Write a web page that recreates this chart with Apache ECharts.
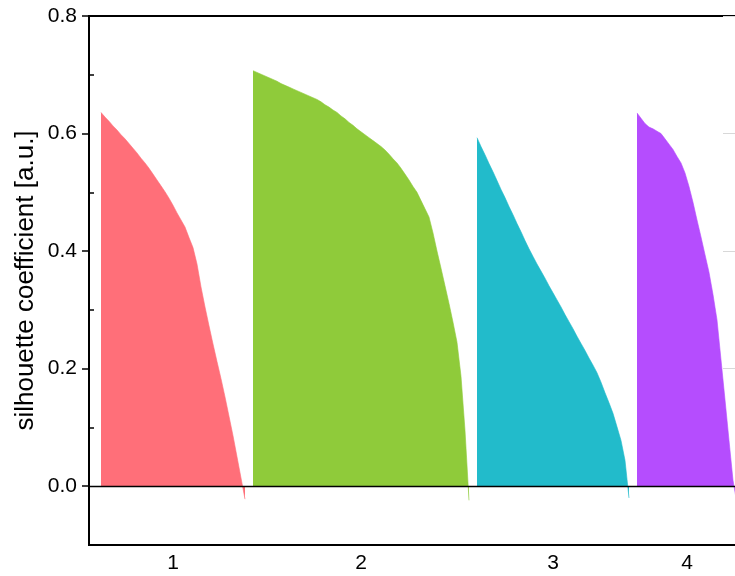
<!DOCTYPE html>
<html>
<head>
<meta charset="utf-8">
<script src="https://cdn.jsdelivr.net/npm/echarts@6/dist/echarts.min.js"></script>
<style>html,body{margin:0;padding:0;background:#fff;}#c{width:735px;height:576px;}</style>
</head>
<body>
<div id="c"></div>
<script>
// Silhouette values per cluster, sorted descending (one entry per sample)
const cluster1 = [0.636,0.628,0.621,0.613,0.606,0.598,0.591,0.583,0.575,0.567,0.558,0.550,0.541,0.531,0.521,0.511,0.501,0.490,0.478,0.465,0.453,0.441,0.423,0.406,0.378,0.339,0.305,0.273,0.242,0.212,0.183,0.152,0.119,0.086,0.050,0.014,-0.022];
const cluster2 = [0.707,0.704,0.701,0.698,0.695,0.692,0.689,0.685,0.682,0.679,0.676,0.673,0.670,0.667,0.664,0.661,0.658,0.654,0.649,0.645,0.640,0.636,0.630,0.625,0.619,0.614,0.608,0.603,0.598,0.593,0.588,0.583,0.578,0.572,0.565,0.557,0.550,0.541,0.531,0.521,0.510,0.500,0.486,0.472,0.458,0.431,0.400,0.371,0.341,0.311,0.279,0.245,0.187,0.095,-0.024];
const cluster3 = [0.593,0.578,0.564,0.549,0.535,0.520,0.505,0.491,0.476,0.462,0.447,0.433,0.418,0.404,0.391,0.378,0.366,0.354,0.341,0.329,0.317,0.305,0.292,0.280,0.268,0.255,0.243,0.231,0.218,0.206,0.193,0.177,0.159,0.142,0.124,0.101,0.078,0.044,-0.020];
const cluster4 = [0.635,0.626,0.617,0.611,0.608,0.604,0.600,0.591,0.582,0.573,0.561,0.550,0.533,0.510,0.483,0.453,0.424,0.394,0.364,0.326,0.283,0.215,0.147,0.078,0.010,-0.030];
const clusterLabels = ['1','2','3','4'];
const clusterColors = ['#FF6F79','#8FCB3A','#22BBCB','#B54DFE'];
const yTickLabels = ['0.0','0.2','0.4','0.6','0.8'];
const yTitle = 'silhouette coefficient [a.u.]';

const clusters = [cluster1, cluster2, cluster3, cluster4];
const LEAD = 3, GAP = 2, XMAX = 163;

let start = LEAD;
const seriesList = [];
const centers = [];
clusters.forEach((vals, k) => {
  const data = vals.map((v, i) => [start + i, v]);
  const last = start + vals.length - 1;
  centers.push((start + last) / 2);
  seriesList.push({
    type: 'line',
    xAxisIndex: 0, yAxisIndex: 0,
    data: data,
    showSymbol: false,
    symbol: 'none',
    lineStyle: {width: 0.6, color: clusterColors[k]},
    areaStyle: {color: clusterColors[k], opacity: 1},
    itemStyle: {color: clusterColors[k]},
    z: 2,
    silent: true
  });
  start = last + GAP;
});

const FONT = 'Liberation Sans, Arial, sans-serif';
const chart = echarts.init(document.getElementById('c'), null, {renderer: 'canvas'});
chart.setOption({
  animation: false,
  backgroundColor: '#fff',
  grid: [
    {left: 89, top: 16, width: 652, height: 529, containLabel: false, outerBoundsMode: 'none', show: true, borderColor: '#000', borderWidth: 2, backgroundColor: 'transparent'},
    {left: 89, top: 16, width: 652, height: 470, containLabel: false, outerBoundsMode: 'none', show: false}
  ],
  xAxis: [
    {
      type: 'value', gridIndex: 0, min: 0, max: XMAX, interval: 0.5, position: 'bottom',
      axisLine: {show: false, onZero: false},
      axisTick: {show: false},
      splitLine: {show: false},
      axisLabel: {
        margin: 8, color: '#000', fontSize: 21, fontFamily: FONT,
        formatter: function (v) {
          for (let k = 0; k < centers.length; k++) {
            if (Math.abs(centers[k] - v) < 1e-6) return clusterLabels[k];
          }
          return '';
        }
      }
    },
    {
      type: 'value', gridIndex: 1, min: 0, max: XMAX, position: 'bottom', z: 10,
      axisLine: {show: true, onZero: false, lineStyle: {color: '#000', width: 1.4}},
      axisTick: {show: false}, axisLabel: {show: false}, splitLine: {show: false}
    }
  ],
  yAxis: [
    {
      type: 'value', gridIndex: 0, min: -0.1, max: 0.8, interval: 0.2, position: 'left',
      axisLine: {show: false},
      axisTick: {show: true, inside: true, length: 5, lineStyle: {color: '#000', width: 1.5}},
      axisLabel: {show: false},
      splitLine: {show: false},
      name: yTitle, nameLocation: 'middle', nameGap: 50,
      nameTextStyle: {fontSize: 26, color: '#000', fontFamily: FONT}
    },
    {
      type: 'value', gridIndex: 1, min: 0, max: 0.8, interval: 0.2, position: 'left',
      axisLine: {show: false},
      axisTick: {show: true, inside: false, length: 7, lineStyle: {color: '#000', width: 1.5}},
      axisLabel: {
        margin: 12, color: '#000', fontSize: 21, fontFamily: FONT,
        formatter: function (v) { const i = Math.round(v / 0.2); return yTickLabels[i] || ''; }
      },
      splitLine: {show: false}
    },
    {
      type: 'value', gridIndex: 1, min: 0, max: 0.8, interval: 0.2, position: 'right',
      axisLine: {show: false},
      axisTick: {show: true, inside: true, length: 18, lineStyle: {color: '#d8d8d8', width: 1}},
      axisLabel: {show: false},
      splitLine: {show: false}
    }
  ],
  series: seriesList
});
</script>
</body>
</html>
